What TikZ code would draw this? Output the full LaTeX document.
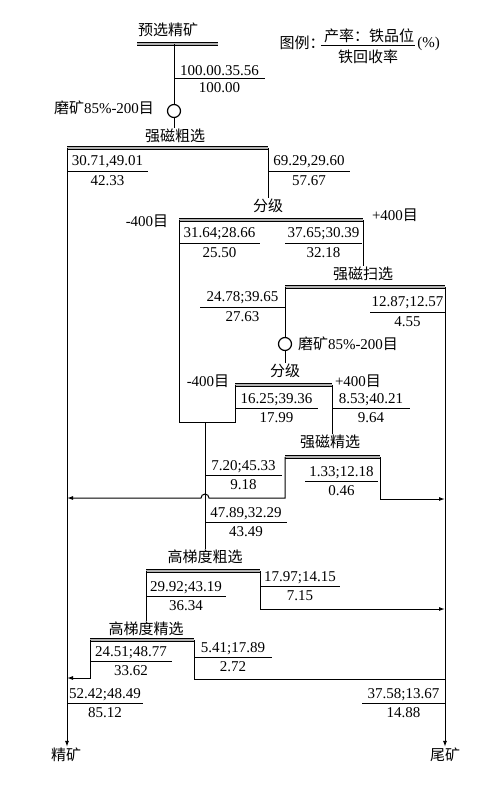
\documentclass[tikz,border=0pt]{standalone}
\usepackage{fontspec}
\setmainfont{Liberation Serif}
\newfontfamily\cjk{Noto Sans CJK SC}
\usetikzlibrary{arrows.meta,positioning}

\tikzset{
  flow/.style={line width=1pt},
  bar/.style={line width=1.1pt, double=black!30, double distance=1.3pt},
  num/.style={inner sep=0pt, font=\fontsize{15}{17}\selectfont},
  cell/.style={inner sep=1pt, font=\cjk\fontsize{15}{17}\selectfont},
  merge/.style={flow, -{Latex[length=6pt,width=4pt]}},
  mill/.style={circle, draw, line width=1.2pt, minimum size=13pt, inner sep=0pt},
}

\begin{document}
\begin{tikzpicture}[x=1pt,y=-1pt]
  \useasboundingbox (0,0) rectangle (500,785);

  % Legend
  \node[cell] (key) at (302,43) {图例：};
  \node[cell] (keyup) at (369,36) {产率：铁品位};
  \node[cell] (keydn) at (368,57) {铁回收率};
  \draw[flow] (keyup.south west) ++(-2,1) coordinate (keyA) -- (keyA -| keyup.south east);
  \node[num, right=2pt of keyup.south east] (keypc) {(\%)};

  % Bar ends and joins
  \coordinate (feedL) at (137,44);  \coordinate (feedR) at (218,44);  \coordinate (feedC) at (174,44);
  \coordinate (roughL) at (67,148); \coordinate (roughR) at (268,148);
  \coordinate (cls1L) at (179,220); \coordinate (cls1R) at (363,220);
  \coordinate (scavL) at (285,287); \coordinate (scavR) at (445,287);
  \coordinate (cls2L) at (235,385); \coordinate (cls2R) at (332,385);
  \coordinate (cleanL) at (285,457); \coordinate (cleanR) at (380,457);
  \coordinate (hgrL) at (146,571); \coordinate (hgrR) at (260,571);
  \coordinate (hgcL) at (90,640); \coordinate (hgcR) at (194,640);
  \coordinate (fineA) at (179,422); \coordinate (fineB) at (235,422); \coordinate (fineC) at (205,422);
  \coordinate (hop) at (205,498);
  \coordinate (concJ1) at (67,498); \coordinate (concJ2) at (67,678);
  \coordinate (tailJ1) at (445,499); \coordinate (tailJ2) at (445,609); \coordinate (tailJ3) at (445,679);

  % Operations
  \node[cell] (feedT) at (168,30) {预选精矿};
  \node[cell] (roughT) at (175,136) {强磁粗选};
  \node[cell] (cls1T) at (268,206) {分级};
  \node[cell] (scavT) at (363,274) {强磁扫选};
  \node[cell] (cls2T) at (285,371) {分级};
  \node[cell] (cleanT) at (330,442) {强磁精选};
  \node[cell] (hgrT) at (205,557) {高梯度粗选};
  \node[cell] (hgcT) at (146,629) {高梯度精选};
  \node[cell] (concT) at (66,755) {精矿};
  \node[cell] (tailT) at (445,755) {尾矿};
  \foreach \op in {feed, rough, cls1, scav, cls2, clean, hgr, hgc}
    \draw[bar] (\op L) -- (\op R);

  % Grinding
  \node[mill] (mill1) at (174,111) {};
  \node[mill] (mill2) at (285,344) {};
  \node[num] (grind1) at (104,108) {{\cjk 磨矿}85\%-200{\cjk 目}};
  \node[num] (grind2) at (348,344) {{\cjk 磨矿}85\%-200{\cjk 目}};

  % Sizes
  \node[num] (fine1) at (147,221) {-400{\cjk 目}};
  \node[num] (coarse1) at (395,215) {+400{\cjk 目}};
  \node[num] (fine2) at (208,381) {-400{\cjk 目}};
  \node[num] (coarse2) at (358,381) {+400{\cjk 目}};

  % Streams
  \draw[flow] (feedC) -- (mill1);
  \draw[flow] (mill1) -- (mill1 |- roughT.north);
  \draw[merge] (roughL) -- (roughL |- concT.north);
  \draw[flow] (roughR) -- (roughR |- cls1T.north);
  \draw[flow] (cls1L) -- (fineA) -- (fineB) -- (cls2L);
  \draw[flow] (cls1R) -- (cls1R |- scavT.north);
  \draw[flow] (scavL) -- (mill2);
  \draw[flow] (mill2) -- (mill2 |- cls2T.north);
  \draw[merge] (scavR) -- (scavR |- tailT.north);
  \draw[flow] (cls2R) -- (cls2R |- cleanT.north);
  \draw[merge] (cleanL) -- (cleanL |- concJ1) -- ([xshift=4pt]hop) arc (0:180:4pt) -- (concJ1);
  \draw[merge] (cleanR) |- (tailJ1);
  \draw[flow] (fineC) -- (fineC |- hgrT.north);
  \draw[flow] (hgrL) -- (hgrL |- hgcT.north);
  \draw[merge] (hgrR) |- (tailJ2);
  \draw[merge] (hgcL) |- (concJ2);
  \draw[flow] (hgcR) |- (tailJ3);

  % Yield; grade / recovery
  \foreach \nm/\y/\xa/\xb/\txa/\txb in {
      feed/78/174/265/{100.00.35.56}/{100.00},
      rc/171/67/148/{30.71,49.01}/{42.33},
      rt/171/268/350/{69.29,29.60}/{57.67},
      fa/243/179/260/{31.64;28.66}/{25.50},
      fb/243/285/362/{37.65;30.39}/{32.18},
      sc/307/200/285/{24.78;39.65}/{27.63},
      st/312/370/445/{12.87;12.57}/{4.55},
      ga/408/235/318/{16.25;39.36}/{17.99},
      gb/408/332/410/{8.53;40.21}/{9.64},
      cc/475/205/282/{7.20;45.33}/{9.18},
      ct/481/305/378/{1.33;12.18}/{0.46},
      hf/522/205/287/{47.89,32.29}/{43.49},
      hc/596/146/226/{29.92;43.19}/{36.34},
      ht/586/260/340/{17.97;14.15}/{7.15},
      pc/661/90/172/{24.51;48.77}/{33.62},
      pt/657/194/272/{5.41;17.89}/{2.72},
      fc/703/67/143/{52.42;48.49}/{85.12},
      ft/703/362/445/{37.58;13.67}/{14.88}}
  {
    \draw[flow, line width=0.7pt] (\xa,\y) -- (\xb,\y);
    \node[num, above=2.5pt] (\nm-up) at ({(\xa+\xb)/2},\y) {\txa};
    \node[num, below=4pt] (\nm-dn) at ({(\xa+\xb)/2},\y) {\txb};
  }
\end{tikzpicture}
\end{document}
